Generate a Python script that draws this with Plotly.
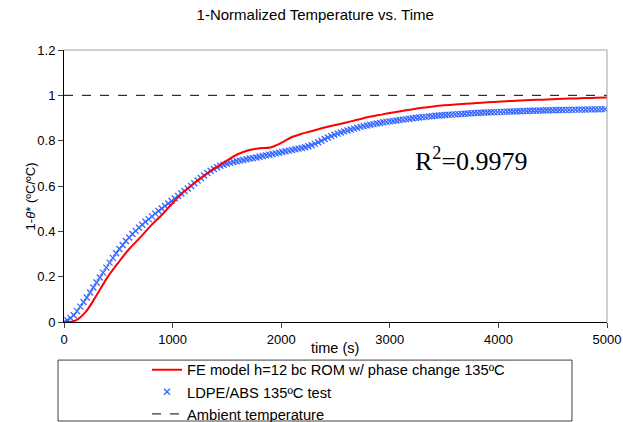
import plotly.graph_objects as go

# FE model (red line), time in s
fe_time = list(range(0, 5001, 100))
fe_val = [0.000, 0.005, 0.045, 0.118, 0.197, 0.262, 0.322, 0.372, 0.425, 0.472,
          0.525, 0.573, 0.613, 0.648, 0.682, 0.712, 0.740, 0.758, 0.767, 0.770,
          0.790, 0.816, 0.832, 0.845, 0.858, 0.869, 0.880, 0.892, 0.904, 0.913,
          0.922, 0.930, 0.938, 0.945, 0.951, 0.956, 0.960, 0.963, 0.966, 0.969,
          0.972, 0.975, 0.977, 0.979, 0.981, 0.983, 0.985, 0.986, 0.988, 0.989,
          0.990]

# LDPE/ABS 135ºC test (blue x markers), every 30 s
test_time = list(range(0, 4981, 30))
test_val = [0.000, 0.008, 0.018, 0.030, 0.048, 0.068, 0.088, 0.108, 0.130, 0.152,
            0.174, 0.196, 0.218, 0.240, 0.262, 0.283, 0.303, 0.322, 0.340, 0.357,
            0.373, 0.388, 0.402, 0.416, 0.429, 0.442, 0.454, 0.466, 0.478, 0.490,
            0.501, 0.512, 0.523, 0.534, 0.545, 0.556, 0.567, 0.578, 0.589, 0.600,
            0.612, 0.624, 0.635, 0.646, 0.657, 0.667, 0.675, 0.683, 0.689, 0.694,
            0.698, 0.702, 0.706, 0.709, 0.712, 0.715, 0.718, 0.721, 0.723, 0.726,
            0.729, 0.732, 0.735, 0.738, 0.741, 0.744, 0.747, 0.750, 0.753, 0.756,
            0.759, 0.762, 0.765, 0.768, 0.771, 0.775, 0.780, 0.786, 0.793, 0.800,
            0.807, 0.814, 0.820, 0.826, 0.831, 0.836, 0.841, 0.845, 0.849, 0.853,
            0.857, 0.861, 0.864, 0.867, 0.870, 0.873, 0.876, 0.878, 0.881, 0.883,
            0.885, 0.887, 0.889, 0.891, 0.893, 0.895, 0.897, 0.899, 0.901, 0.902,
            0.904, 0.905, 0.907, 0.908, 0.910, 0.911, 0.912, 0.913, 0.914, 0.915,
            0.916, 0.917, 0.918, 0.919, 0.920, 0.921, 0.922, 0.922, 0.923, 0.924,
            0.924, 0.925, 0.926, 0.926, 0.927, 0.927, 0.928, 0.929, 0.929, 0.930,
            0.930, 0.931, 0.931, 0.932, 0.932, 0.932, 0.933, 0.933, 0.934, 0.934,
            0.934, 0.935, 0.935, 0.935, 0.936, 0.936, 0.936, 0.937, 0.937, 0.937,
            0.937, 0.938, 0.938, 0.938, 0.938, 0.939, 0.939]

ambient_time = [0, 5000]
ambient_val = [1.0, 1.0]

x_ticks = [0, 1000, 2000, 3000, 4000, 5000]
y_ticks = [0, 0.2, 0.4, 0.6, 0.8, 1.0, 1.2]
y_tick_labels = ["0", "0.2", "0.4", "0.6", "0.8", "1", "1.2"]

FONT = "Arial, Liberation Sans, sans-serif"

fig = go.Figure()
fig.add_trace(go.Scatter(
    x=ambient_time, y=ambient_val, mode="lines",
    line=dict(color="black", width=1, dash="dash"),
    name="Ambient temperature", legendrank=3))
fig.add_trace(go.Scatter(
    x=test_time, y=test_val, mode="markers",
    marker=dict(symbol="x-thin-open", size=6, line=dict(color="#3366ff", width=1.3), color="#3366ff"),
    name="LDPE/ABS 135ºC test", legendrank=2))
fig.add_trace(go.Scatter(
    x=fe_time, y=fe_val, mode="lines", line_shape="spline",
    line=dict(color="#ff0000", width=2),
    name="FE model h=12 bc ROM w/ phase change 135ºC", legendrank=1))

fig.update_layout(
    width=623, height=422,
    margin=dict(l=64, r=16, t=50, b=100, autoexpand=False),
    paper_bgcolor="white", plot_bgcolor="white",
    font=dict(family=FONT, size=13, color="black"),
    title=dict(text="1-Normalized Temperature vs. Time", x=0.506, xref="container",
               y=0.966, yanchor="middle", font=dict(size=15, family=FONT, color="black")),
    showlegend=True,
    legend=dict(xref="container", yref="container", x=0.236, xanchor="left",
                y=0.162, yanchor="top",
                bgcolor="rgba(0,0,0,0)", borderwidth=0,
                font=dict(size=14.7, family=FONT), tracegroupgap=0, itemwidth=30),
    xaxis=dict(range=[0, 5000], tickvals=x_ticks, ticks="outside", ticklen=5,
               showline=True, linecolor="black", linewidth=1, showgrid=False,
               zeroline=False, tickfont=dict(size=13), fixedrange=True),
    yaxis=dict(range=[0, 1.2], tickvals=y_ticks, ticktext=y_tick_labels,
               ticks="outside", ticklen=5, showline=True, linecolor="black",
               linewidth=1, showgrid=False, zeroline=False, tickfont=dict(size=13)),
    shapes=[
        dict(type="line", xref="paper", yref="paper", x0=0, x1=1, y0=1, y1=1,
             line=dict(color="#a0a0a0", width=1)),
        dict(type="line", xref="paper", yref="paper", x0=1, x1=1, y0=0, y1=1,
             line=dict(color="#a0a0a0", width=1)),
        dict(type="rect", xref="paper", yref="paper", x0=-0.011, x1=0.9355,
             y0=-0.364, y1=-0.140, line=dict(color="#404040", width=1)),
    ],
    annotations=[
        dict(text="time (s)", x=0.499, y=-0.096, xref="paper", yref="paper",
             showarrow=False, xanchor="center", yanchor="middle", font=dict(size=14.5)),
        dict(text="1-<i>θ</i>* (ºC/ºC)", x=0, xshift=-43, y=0.46, xref="paper", yref="paper",
             showarrow=False, textangle=-90, font=dict(size=13)),
        dict(text="R<sup>2</sup>=0.9979", x=3748, y=0.715, xref="x", yref="y",
             showarrow=False, xanchor="center", yanchor="middle",
             font=dict(size=26, family="Times New Roman, Liberation Serif, serif")),
    ],
)

fig.write_html("out.html")
